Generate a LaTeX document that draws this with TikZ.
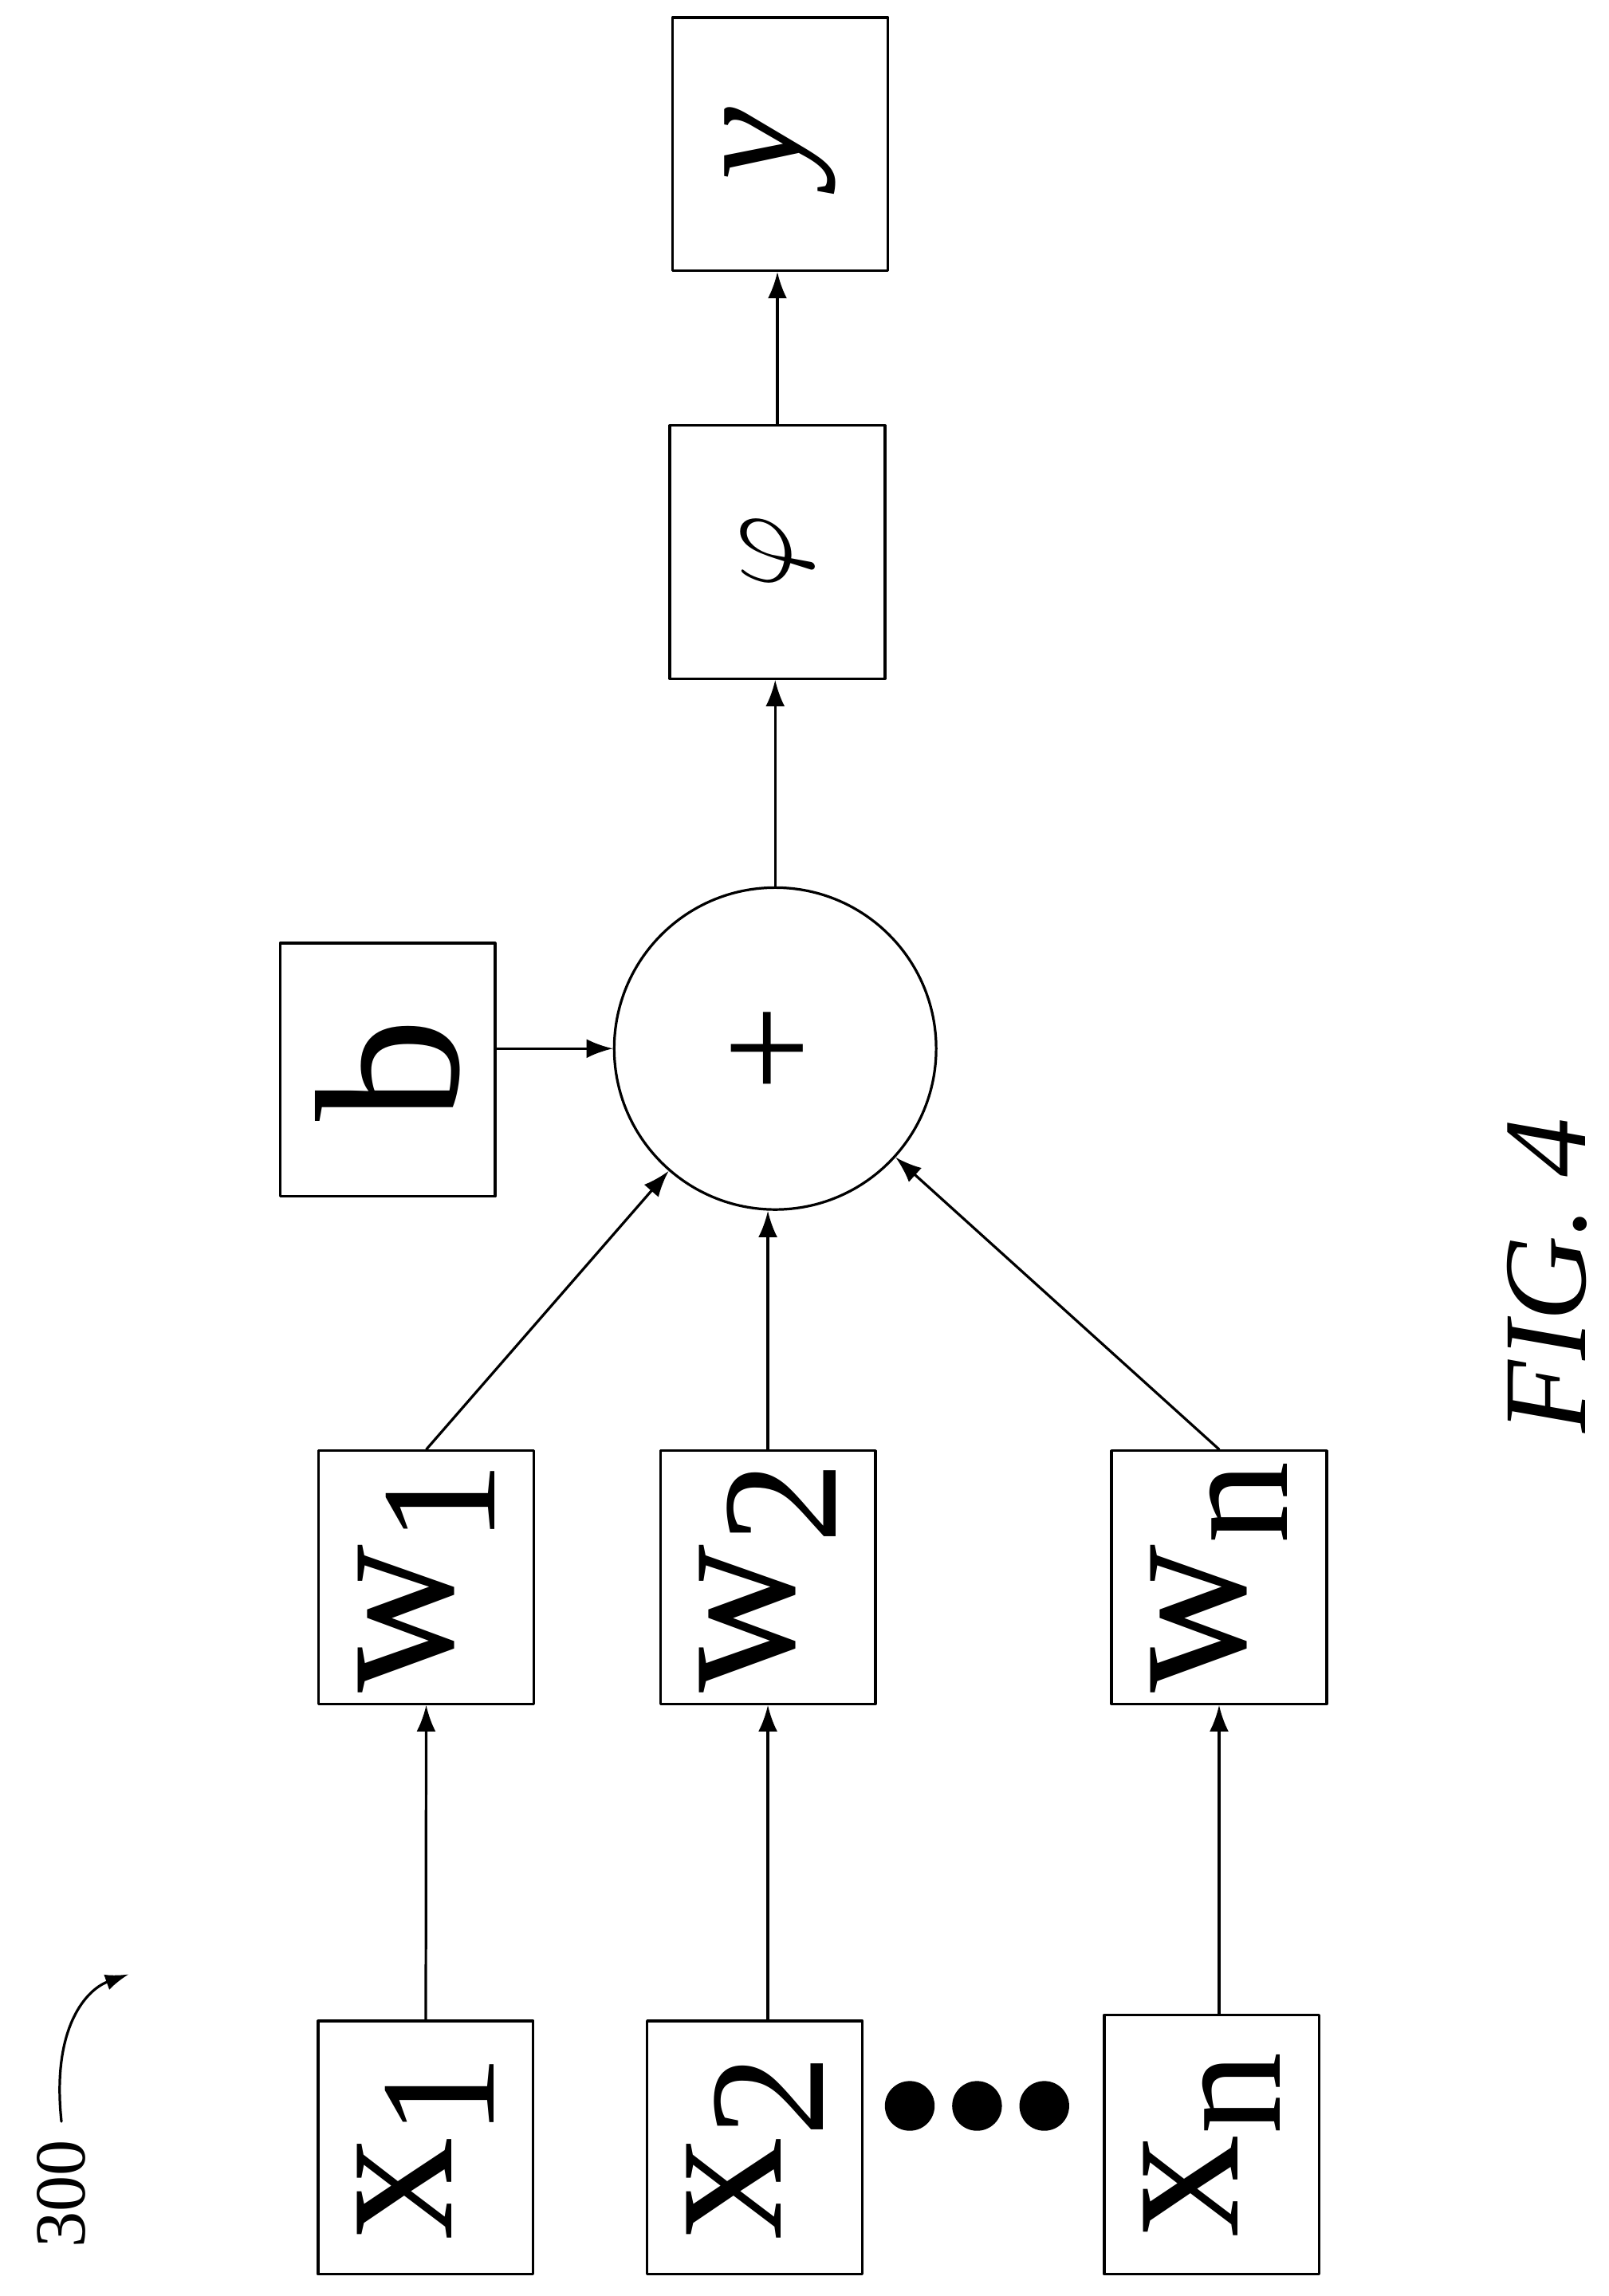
\documentclass[tikz,border=0pt]{standalone}
\usepackage{fontspec}
\setmainfont{Liberation Serif}
\usetikzlibrary{arrows.meta}
\tikzset{
  blk/.style={draw,line width=0.5pt,minimum width=1.47cm,minimum height=1.73cm,inner sep=0pt},
  arr/.style={-{Latex[length=1.8mm,width=1.3mm]},line width=0.5pt},
}
\newcommand{\rt}[1]{\rotatebox{90}{\fontsize{40}{40}\selectfont #1}}
\newcommand{\sbs}[1]{\raisebox{-0.45ex}{\fontsize{32}{32}\selectfont #1}}
\begin{document}
\begin{tikzpicture}[line cap=round,line join=round,x=0.01cm,y=-0.01cm]
\useasboundingbox (0,0) rectangle (1100,1570);

% boxes
\node[blk] (out) at (533.5,98.5) {\rt{\fontsize{32}{32}\selectfont\itshape y}};
\node[blk] (act) at (531.5,377.5) {\rotatebox{90}{\scalebox{2.2}{$\varphi$}}};
\node[blk] (bias) at (265,731.5) {\rt{b}};
\node[draw,circle,line width=0.5pt,minimum size=2.2cm,inner sep=0pt] (sum) at (530,717) {\rt{\fontsize{30}{30}\selectfont +}};
\node[blk] (w1) at (291.5,1078.5) {\rt{w\sbs{1}}};
\node[blk] (w2) at (525,1078.5) {\rt{w\sbs{2}}};
\node[blk] (wn) at (833.5,1078.5) {\rt{w\sbs{n}}};
\node[blk] (x1) at (291,1468.5) {\rt{x\sbs{1}}};
\node[blk] (x2) at (516,1468.5) {\rt{x\sbs{2}}};
\node[blk,minimum width=1.47cm,minimum height=1.77cm] (xn) at (828.5,1466.5) {\rt{x\sbs{n}}};

% dots
\foreach \i in {622,668,714}
  \fill (\i,1440) circle (17);

% arrows
\draw[arr] (x1) -- (w1);
\draw[arr] (x2.north -| w2) -- (w2);
\draw[arr] (xn.north -| wn) -- (wn);
\draw[arr] (w1.north) -- (sum);
\draw[arr] (w2.north) -- (w2.north |- sum.south);
\draw[arr] (wn.north) -- (sum);
\draw[arr] (bias.east |- sum) -- (sum.west);
\draw[arr] (sum.north) -- (sum.north |- act.south);
\draw[arr] (act.north) -- (act.north |- out.south);

% labels
\node[rotate=90] (fig) at (1058,872) {\fontsize{23}{23}\selectfont\itshape FIG. 4};
\node[rotate=90] (ref) at (42,1500) {\fontsize{14}{14}\selectfont 300};
\coordinate (refend) at (88,1350);
\draw[-{Latex[length=1.6mm,width=1.1mm]},line width=0.5pt] (ref.east) .. controls (35,1385) and (60,1360) .. (refend);
\end{tikzpicture}
\end{document}
